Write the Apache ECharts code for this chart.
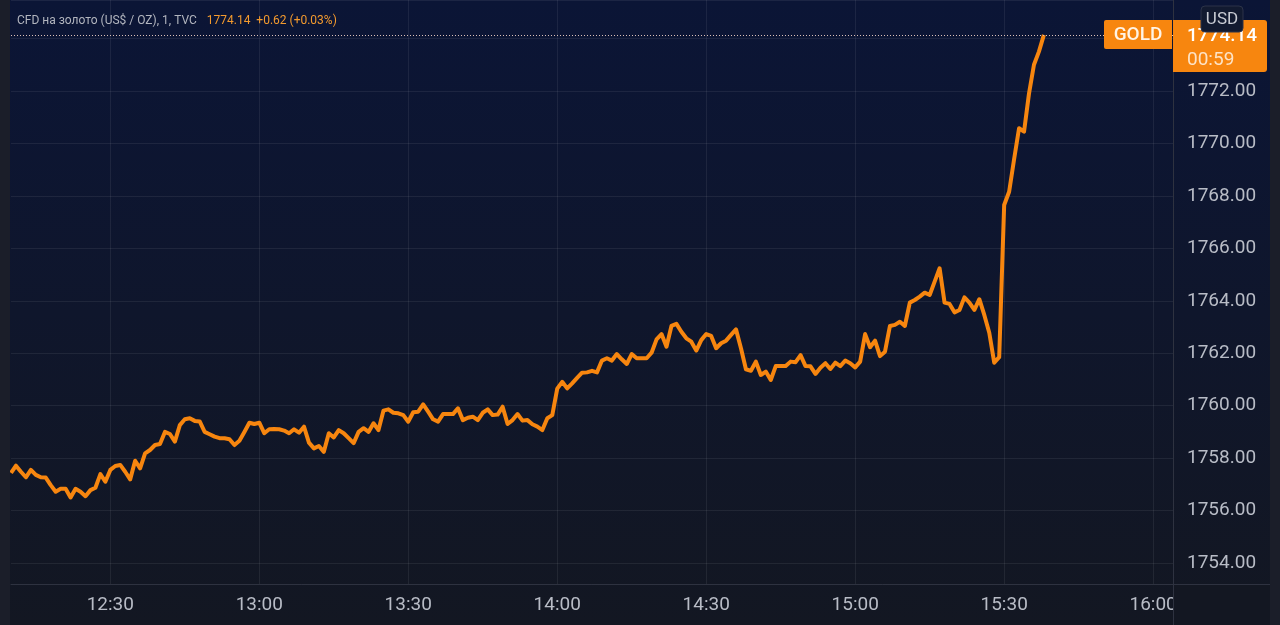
<!DOCTYPE html>
<html><head><meta charset="utf-8">
<script src="https://cdn.jsdelivr.net/npm/echarts@6/dist/echarts.min.js"></script>
<style>html,body{margin:0;padding:0;background:#131722;overflow:hidden}#c{width:1280px;height:625px}</style>
</head><body><div id="c"></div>
<script>
const titleText = 'CFD на золото (US$ / OZ), 1, TVC';
const lastInfo = '1774.14  +0.62 (+0.03%)';
const symbolName = 'GOLD';
const countdown = '00:59';
const currency = 'USD';
const startMinute = 12 * 60 + 10;
const endMinute = 16 * 60 + 4;
const timeTicks = ['12:30', '13:00', '13:30', '14:00', '14:30', '15:00', '15:30', '16:00'];
const prices = [
  1757.44, 1757.71, 1757.48, 1757.27, 1757.55, 1757.36, 1757.27, 1757.26, 1756.97, 1756.72,
  1756.83, 1756.83, 1756.50, 1756.83, 1756.72, 1756.55, 1756.78, 1756.87, 1757.39, 1757.10,
  1757.55, 1757.70, 1757.74, 1757.48, 1757.19, 1757.90, 1757.61, 1758.18, 1758.31, 1758.50,
  1758.54, 1759.00, 1758.92, 1758.63, 1759.26, 1759.48, 1759.52, 1759.42, 1759.40, 1759.00,
  1758.91, 1758.82, 1758.76, 1758.76, 1758.72, 1758.50, 1758.66, 1759.00, 1759.35, 1759.30,
  1759.35, 1758.95, 1759.10, 1759.11, 1759.10, 1759.05, 1758.95, 1759.10, 1758.97, 1759.20,
  1758.59, 1758.37, 1758.46, 1758.24, 1758.95, 1758.79, 1759.07, 1758.95, 1758.76, 1758.57,
  1759.00, 1759.14, 1759.00, 1759.33, 1759.07, 1759.81, 1759.86, 1759.73, 1759.71, 1759.64,
  1759.39, 1759.75, 1759.77, 1760.05, 1759.77, 1759.48, 1759.39, 1759.68, 1759.68, 1759.68,
  1759.90, 1759.45, 1759.54, 1759.58, 1759.45, 1759.73, 1759.86, 1759.64, 1759.66, 1759.96,
  1759.30, 1759.45, 1759.68, 1759.43, 1759.45, 1759.29, 1759.20, 1759.07, 1759.52, 1759.64,
  1760.65, 1760.91, 1760.66, 1760.85, 1761.06, 1761.26, 1761.27, 1761.33, 1761.27, 1761.72,
  1761.81, 1761.72, 1761.97, 1761.77, 1761.59, 1761.97, 1761.81, 1761.81, 1761.81, 1762.02,
  1762.53, 1762.73, 1762.25, 1763.04, 1763.12, 1762.82, 1762.57, 1762.44, 1762.10, 1762.50,
  1762.73, 1762.66, 1762.19, 1762.38, 1762.48, 1762.70, 1762.91, 1762.19, 1761.39, 1761.33,
  1761.68, 1761.17, 1761.30, 1760.98, 1761.51, 1761.51, 1761.51, 1761.68, 1761.66, 1761.93,
  1761.51, 1761.50, 1761.21, 1761.45, 1761.62, 1761.40, 1761.64, 1761.51, 1761.72, 1761.62,
  1761.46, 1761.68, 1762.73, 1762.23, 1762.48, 1761.89, 1762.06, 1763.04, 1763.08, 1763.20,
  1763.04, 1763.93, 1764.03, 1764.16, 1764.31, 1764.22, 1764.73, 1765.24, 1763.93, 1763.88,
  1763.56, 1763.65, 1764.13, 1763.93, 1763.65, 1764.06, 1763.46, 1762.78, 1761.64, 1761.85,
  1767.65, 1768.16, 1769.40, 1770.58, 1770.45, 1771.90, 1773.00, 1773.50, 1774.14
];
const categories = [];
for (let m = startMinute; m <= endMinute; m++) {
  categories.push(String(Math.floor(m / 60)).padStart(2, '0') + ':' + String(m % 60).padStart(2, '0'));
}

const FONT = 'Roboto, "Noto Sans", sans-serif';
const labelColor = '#b8bcc6';
const gridColor = 'rgba(255,255,255,0.07)';
const sepColor = '#2e3240';
const orange = '#f7860f';
const isTick = (i, v) => timeTicks.includes(v !== undefined ? v : categories[i]);

const chart = echarts.init(document.getElementById('c'), null, { renderer: 'canvas' });
chart.setOption({
  animation: false,
  backgroundColor: {
    type: 'linear', x: 0, y: 0, x2: 0, y2: 1,
    colorStops: [{ offset: 0, color: '#0b1536' }, { offset: 1, color: '#131722' }]
  },
  title: {
    left: 12, top: 7,
    text: '{a|' + titleText + '}  {b|' + lastInfo + '}',
    textStyle: {
      fontWeight: 'normal',
      rich: {
        a: { color: '#b2b5be', fontSize: 12, fontFamily: FONT, fontWeight: 'normal' },
        b: { color: '#f39a2e', fontSize: 12, fontFamily: FONT, fontWeight: 'normal' }
      }
    }
  },
  grid: { left: 11, right: 107, top: 0, bottom: 41 },
  xAxis: {
    type: 'category',
    data: categories,
    boundaryGap: false,
    axisLine: { show: true, lineStyle: { color: sepColor, width: 1 } },
    axisTick: { show: false },
    axisLabel: {
      interval: (i, v) => isTick(i, v),
      color: labelColor, fontSize: 19, fontFamily: FONT, margin: 12
    },
    splitLine: { show: true, interval: (i, v) => isTick(i, v), lineStyle: { color: gridColor, width: 1 } }
  },
  yAxis: {
    type: 'value',
    position: 'right',
    min: 1753.2,
    max: 1775.47,
    splitNumber: 11,
    axisLine: { show: true, lineStyle: { color: sepColor, width: 1 } },
    axisTick: { show: false },
    axisLabel: {
      formatter: v => v.toFixed(2),
      showMinLabel: false, showMaxLabel: false,
      padding: [3, 0, 0, 0],
      color: labelColor, fontSize: 19, fontFamily: FONT, margin: 14, align: 'left'
    },
    splitLine: { show: true, lineStyle: { color: gridColor, width: 1 } }
  },
  series: [{
    type: 'line',
    data: prices,
    symbol: 'none',
    smooth: false,
    lineStyle: { color: orange, width: 4, join: 'round' },
    markLine: {
      silent: true,
      symbol: 'none',
      label: { show: false },
      lineStyle: { type: [1, 2], color: '#dcc0b8', width: 1 },
      data: [{ yAxis: prices[prices.length - 1] }]
    }
  }]
});

const last = prices[prices.length - 1];
const py = chart.convertToPixel({ yAxisIndex: 0 }, last);
const ax = chart.convertToPixel({ xAxisIndex: 0 }, categories[categories.length - 1]);
const bottomY = chart.convertToPixel({ yAxisIndex: 0 }, 1753.2);

chart.setOption({
  graphic: [
    { type: 'rect', z: 100, shape: { x: 0, y: 0, width: 10, height: 625 }, style: { fill: '#1b1e29' } },
    { type: 'rect', z: 100, shape: { x: 1270, y: 0, width: 10, height: 625 }, style: { fill: '#1b1e29' } },
    { type: 'rect', z: 100, shape: { x: ax + 1, y: bottomY + 1, width: 1270 - ax - 1, height: 625 - bottomY }, style: { fill: '#131722' } },
    { type: 'line', z: 101, shape: { x1: ax, y1: bottomY + 0.5, x2: 1270, y2: bottomY + 0.5 }, style: { stroke: sepColor, lineWidth: 1 } },
    { type: 'line', z: 101, shape: { x1: ax + 0.5, y1: bottomY, x2: ax + 0.5, y2: 625 }, style: { stroke: sepColor, lineWidth: 1 } },
    { type: 'rect', z: 102, shape: { x: ax - 69, y: py - 15, width: 68, height: 29, r: [2, 0, 0, 2] }, style: { fill: orange } },
    { type: 'text', z: 103, style: { x: ax - 35, y: py, text: symbolName, fill: '#fff4e6', font: '500 19px ' + FONT, align: 'center', verticalAlign: 'middle' } },
    { type: 'rect', z: 102, shape: { x: ax, y: py - 15, width: 94, height: 52, r: [0, 3, 3, 0] }, style: { fill: orange } },
    { type: 'text', z: 103, style: { x: ax + 14, y: py + 1, text: last.toFixed(2), fill: '#ffffff', font: '500 19px ' + FONT, align: 'left', verticalAlign: 'middle' } },
    { type: 'text', z: 103, style: { x: ax + 14, y: py + 25, text: countdown, fill: '#fde3c6', font: '19px ' + FONT, align: 'left', verticalAlign: 'middle' } },
    { type: 'rect', z: 104, shape: { x: 1201, y: 6, width: 42, height: 26, r: 4 }, style: { fill: '#121a30', stroke: '#2c3348', lineWidth: 1 } },
    { type: 'text', z: 105, style: { x: 1222, y: 19.5, text: currency, fill: '#c9ccd4', font: '17px ' + FONT, align: 'center', verticalAlign: 'middle' } }
  ]
});
</script>
</body></html>
